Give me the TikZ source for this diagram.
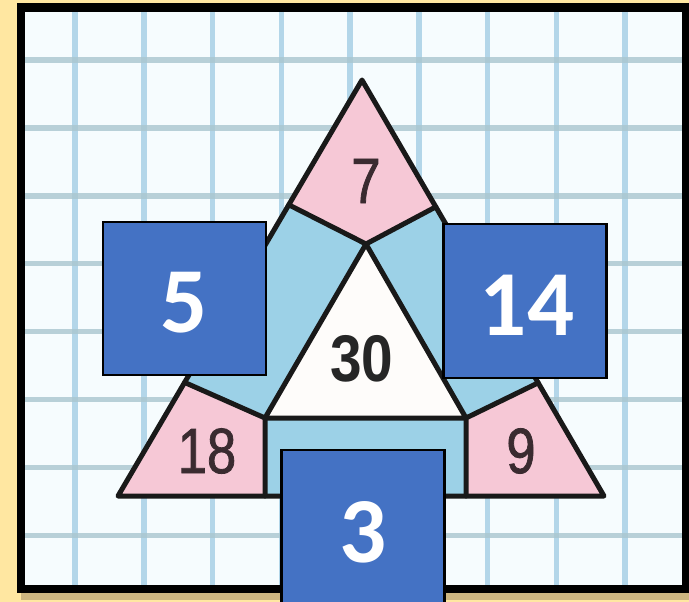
\documentclass[tikz,border=0pt]{standalone}
\usepackage{fontspec}
\setmainfont{Liberation Sans}
\newfontfamily\narrowfont[FakeStretch=0.82,FakeBold=1.2]{Liberation Sans}
\newfontfamily\narrowboldfont[FakeStretch=0.86]{Liberation Sans}
\newfontfamily\boxfont{Carlito}
\usetikzlibrary{calc}
\definecolor{bgyellow}{HTML}{FFE7A1}
\definecolor{shadowtan}{HTML}{CDB681}
\definecolor{paper}{HTML}{F6FCFE}
\definecolor{vgridc}{HTML}{A3CDE4}
\definecolor{hgridc}{HTML}{A9C6CF}
\definecolor{pinkfill}{HTML}{F6C8D6}
\definecolor{bluefill}{HTML}{9CD1E7}
\definecolor{whitefill}{HTML}{FEFCFA}
\definecolor{boxblue}{HTML}{4472C4}
\definecolor{digitdark}{HTML}{3A2B30}
\begin{document}
\begin{tikzpicture}[x=1pt,y=-1pt,
  vgrid/.style={draw=vgridc,line width=5.5pt,opacity=0.8},
  hgrid/.style={draw=hgridc,line width=5.5pt,opacity=0.8},
  outline/.style={draw=black!90,line width=5pt,line join=round,line cap=round},
  numbox/.style={draw=black,line width=2.5pt,fill=boxblue,minimum width=163pt,inner sep=0pt},
  boxtxt/.style={text=white,font=\boxfont\bfseries\fontsize{93}{93}\selectfont,inner sep=0pt},
  digit/.style={text=digitdark,font=\narrowfont\fontsize{64}{64}\selectfont,inner sep=0pt}]
\useasboundingbox (0,0) rectangle (689,602);
\fill[bgyellow] (0,0) rectangle (689,602);
\fill[shadowtan] (21,11) rectangle (695,600);
\fill[paper] (21,7.5) rectangle (686,589);
% grid
\begin{scope}
  \clip (25,12) rectangle (682,585);
  \foreach \i in {0,...,8} \draw[vgrid] ({75+68.75*\i},0) -- ({75+68.75*\i},602);
  \foreach \j in {0,...,7} \draw[hgrid] (0,{60+67.9*\j}) -- (689,{60+67.9*\j});
\end{scope}
% triangle geometry
\coordinate (A) at (362,80);
\coordinate (B) at (118,496);
\coordinate (C) at (604,496);
\coordinate (P1) at ($(A)!0.3!(B)$);
\coordinate (P2) at ($(A)!0.727!(B)$);
\coordinate (Q1) at ($(A)!0.305!(C)$);
\coordinate (Q2) at ($(A)!0.728!(C)$);
\coordinate (I1) at (366,244);
\coordinate (I2) at (265,418);
\coordinate (I3) at (466,418);
\coordinate (D) at (265,496);
\coordinate (E) at (466,496);
% fills
\fill[pinkfill] (A) -- (P1) -- (I1) -- (Q1) -- cycle;
\fill[pinkfill] (P2) -- (I2) -- (D) -- (B) -- cycle;
\fill[pinkfill] (Q2) -- (I3) -- (E) -- (C) -- cycle;
\fill[bluefill] (P1) -- (I1) -- (I2) -- (P2) -- cycle;
\fill[bluefill] (Q1) -- (I1) -- (I3) -- (Q2) -- cycle;
\fill[bluefill] (I2) -- (I3) -- (E) -- (D) -- cycle;
\fill[whitefill] (I1) -- (I2) -- (I3) -- cycle;
% outlines
\draw[outline] (A) -- (B) -- (C) -- cycle;
\draw[outline] (I1) -- (I2) -- (I3) -- cycle;
\draw[outline] (P1) -- (I1) -- (Q1);
\draw[outline] (P2) -- (I2) -- (D);
\draw[outline] (Q2) -- (I3) -- (E);
% numbers on the triangle
\node[digit] (t7) at (366,181) {7};
\node[digit,text=black!85,font=\narrowboldfont\bfseries\fontsize{66}{66}\selectfont] (t30) at (362,359) {30};
\node[digit] (t18) at (207,451) {18};
\node[digit] (t9) at (521,451) {9};
% frame
\draw[line width=8.5pt] (21,7.5) rectangle (686,589);
% blue answer boxes
\node[numbox,minimum height=153pt] (b5) at (184.5,298.5) {};
\node[boxtxt] (t5) at (184,303) {5};
\node[numbox,minimum height=154pt] (b14) at (525,301) {};
\node[boxtxt] (t14) at (527,305) {14};
\node[numbox,minimum height=165pt] (b3) at (363,532.5) {};
\node[boxtxt] (t3) at (363,532) {3};
\end{tikzpicture}
\end{document}
